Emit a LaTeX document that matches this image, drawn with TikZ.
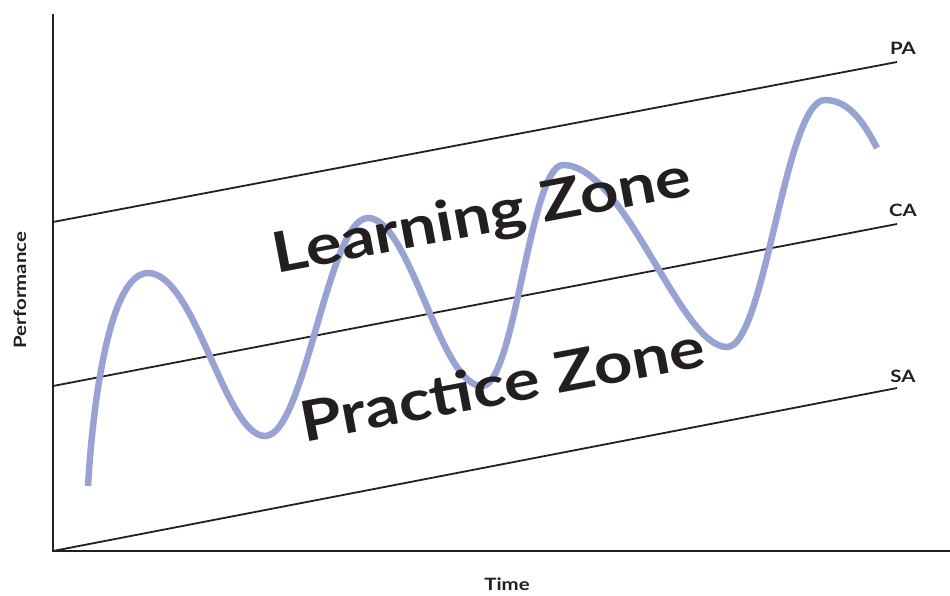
\documentclass[tikz,border=0pt]{standalone}
\usepackage{fontspec}
\setmainfont[FakeStretch=1.2]{Lato}
\usepackage{xcolor}
\definecolor{wave}{HTML}{99A3D3}
\definecolor{ink}{HTML}{231F20}

\begin{document}
\begin{tikzpicture}[x=1pt,y=-1pt,
  lbl/.style={font=\fontsize{17}{19}\selectfont\bfseries,text=ink,inner sep=0pt},
  zone/.style={font=\fontsize{56}{60}\selectfont\bfseries,text=ink,inner sep=0pt,anchor=base,rotate=10.7}]
\useasboundingbox (0,0) rectangle (950,595);
\draw (53,14) coordinate (top); 
\draw (53,551) coordinate (origin); 
\draw (950,551) coordinate (right); 
\draw (53,222) coordinate (pastart); 
\draw (53,386) coordinate (castart); 
\draw (897,62) coordinate (paend); 
\draw (897,224) coordinate (caend); 
\draw (897,388) coordinate (saend); 
\draw[ink,line width=1.8] (pastart) -- (paend);
\draw[ink,line width=1.8] (castart) -- (caend);
\draw[ink,line width=1.8] (origin) -- (saend);
\draw[wave,line width=6.5] (88,486) .. controls (93,400) and (110,273) .. (148,273)
  .. controls (195,273) and (225,436) .. (265,436)
  .. controls (305,436) and (328,218) .. (368,218)
  .. controls (410,218) and (440,386) .. (482,386)
  .. controls (515,386) and (530,165) .. (563,165)
  .. controls (625,165) and (680,347) .. (727,347)
  .. controls (765,347) and (785,100) .. (825,100)
  .. controls (850,100) and (865,125) .. (877,148);
\draw[ink,line width=2.4] (top) -- (origin) -- (right);
\draw (485,234) node[zone](learn) {Learning Zone}; 
\draw (506,404) node[zone](practice) {Practice Zone}; 
\draw (903,48) node[lbl](pa) {PA}; 
\draw (903,210) node[lbl](ca) {CA}; 
\draw (903,376) node[lbl](sa) {SA}; 
\draw (20,290) node[lbl,rotate=90](perf) {Performance}; 
\draw (507,584) node[lbl](time) {Time}; 
\end{tikzpicture}
\end{document}
